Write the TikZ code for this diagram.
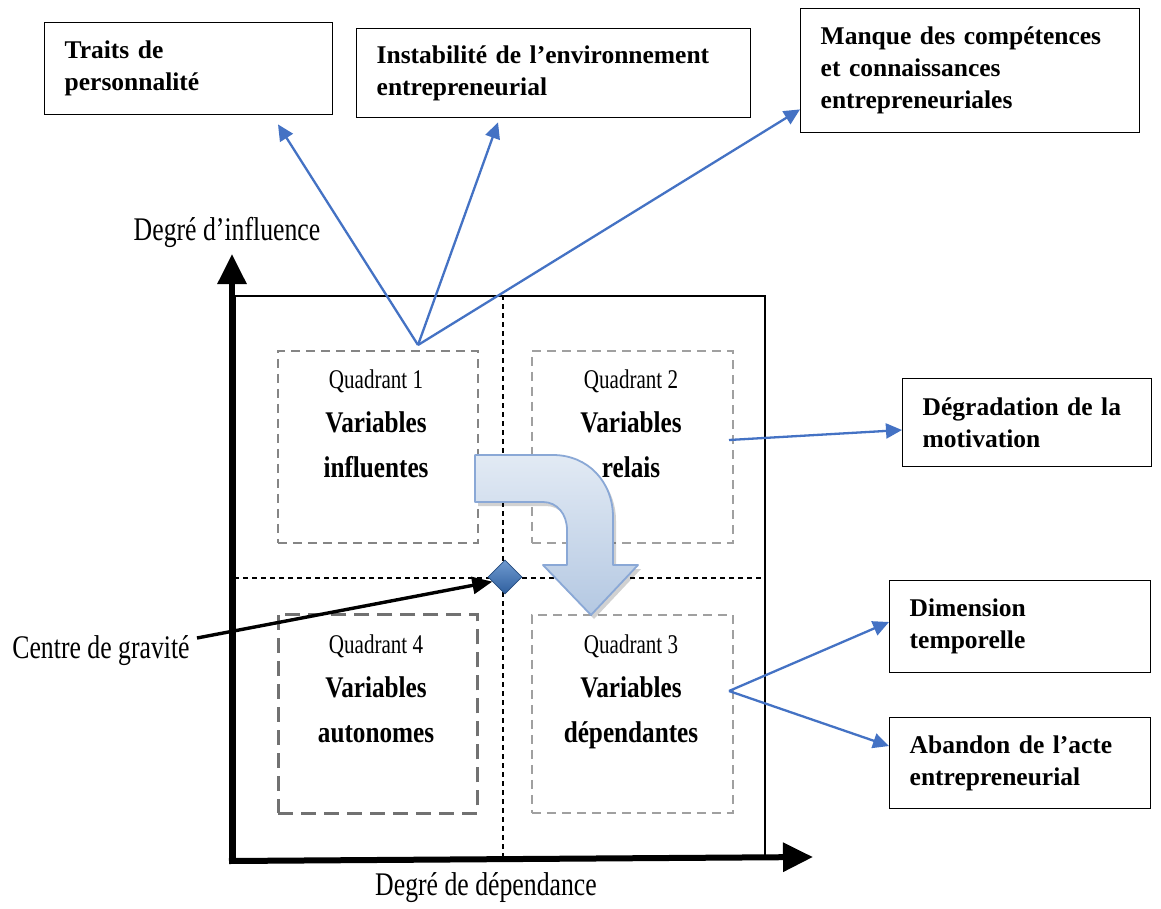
\documentclass[tikz,border=0pt]{standalone}
\usepackage{fontspec}
\usepackage{graphicx}
\setmainfont{Liberation Serif}
\usetikzlibrary{arrows.meta,shapes.geometric,calc}
\definecolor{lnblue}{HTML}{4472C4}
\definecolor{qgray}{HTML}{858585}
\definecolor{qgrayl}{HTML}{A0A0A0}
\definecolor{arrtop}{HTML}{E2EAF4}
\definecolor{arrbot}{HTML}{B4C8E2}
\definecolor{arrdraw}{HTML}{8AA8D6}
\definecolor{diatop}{HTML}{6F9AD0}
\definecolor{diabot}{HTML}{2F5F9E}
\newcommand\cnd[2]{\scalebox{#1}[1]{#2}}
\newcommand\crvpath{(475,455) -- (553,455) .. controls (588,455) and (613,482) .. (613,517) -- (613,565) -- (638,565) -- (591,615) -- (543,565) -- (567,565) -- (567,530) .. controls (567,514) and (557,502) .. (543,502) -- (475,502) -- cycle}
\tikzset{
  infobox/.style={draw, line width=1.4pt, inner xsep=20pt, inner ysep=4pt, align=left,
    font=\fontsize{25.5}{32}\selectfont\bfseries},
  quadbox/.style={draw=qgray, line width=1.8pt, dash pattern=on 9pt off 6pt},
  quadboxl/.style={draw=qgrayl, line width=1.7pt, dash pattern=on 9pt off 6pt},
  quadboxd/.style={draw=qgray!85!black, line width=2.8pt, dash pattern=on 15pt off 8pt},
  qtitle/.style={anchor=base, inner sep=0pt, font=\fontsize{27}{30}\selectfont},
  qbody/.style={anchor=base, inner sep=0pt, font=\fontsize{30}{34}\selectfont\bfseries},
  axlabel/.style={inner sep=0pt, font=\fontsize{33}{36}\selectfont},
  blueline/.style={draw=lnblue, line width=2.3pt, -{Triangle[length=16pt,width=15pt]}},
  axisline/.style={line width=6pt, -{Triangle[length=30pt,width=28pt]}},
  gridline/.style={line width=1.1pt, dash pattern=on 5pt off 4pt},
}
\begin{document}
\begin{tikzpicture}[x=1pt,y=-1pt]
\useasboundingbox (0,0) rectangle (1161,908);
\fill[white] (0,0) rectangle (1161,908);

% main square
\node[draw, line width=1.5pt, minimum width=530pt, minimum height=563pt, inner sep=0pt, anchor=north west] (sq) at (234,295) {};
\coordinate (vt) at (503,295);
\coordinate (vb) at (503,858);
\coordinate (hl) at (234,578);
\coordinate (hr) at (764,578);
\draw[gridline] (vt) -- (vb);
\draw[gridline] (hl) -- (hr);

% axes
\coordinate (orig) at (232,861);
\coordinate (ytip) at (232,254);
\coordinate (xtip) at (813,857);
\draw[axisline] ([yshift=3pt]orig) -- (ytip);
\draw[axisline] ([xshift=-3pt]orig) -- (xtip);
\node[axlabel] (ylab) at (227,232) {\cnd{0.78}{Degré d’influence}};
\node[axlabel] (xlab) at (486,888) {\cnd{0.78}{Degré de dépendance}};

% quadrant boxes
\node[quadbox, minimum width=200pt, minimum height=192pt, inner sep=0pt, anchor=north west] (q1) at (277,350) {};
\node[quadboxl, minimum width=201pt, minimum height=192pt, inner sep=0pt, anchor=north west] (q2) at (531,350) {};
\node[quadboxd, minimum width=199pt, minimum height=199pt, inner sep=0pt, anchor=north west] (q4) at (277,613) {};
\node[quadboxl, minimum width=201pt, minimum height=198pt, inner sep=0pt, anchor=north west] (q3) at (531,614) {};

\node[qtitle] (q1t) at (376,388) {\cnd{0.78}{Quadrant 1}};
\node[qbody] (q1a) at (376,432) {\cnd{0.84}{Variables}};
\node[qbody] (q1b) at (376,477) {\cnd{0.84}{influentes}};
\node[qtitle] (q2t) at (631,388) {\cnd{0.78}{Quadrant 2}};
\node[qbody] (q2a) at (631,432) {\cnd{0.84}{Variables}};
\node[qbody] (q2b) at (631,477) {\cnd{0.84}{relais}};
\node[qtitle] (q4t) at (376,653) {\cnd{0.78}{Quadrant 4}};
\node[qbody] (q4a) at (376,697) {\cnd{0.84}{Variables}};
\node[qbody] (q4b) at (376,742) {\cnd{0.84}{autonomes}};
\node[qtitle] (q3t) at (631,653) {\cnd{0.78}{Quadrant 3}};
\node[qbody] (q3a) at (631,697) {\cnd{0.84}{Variables}};
\node[qbody] (q3b) at (631,742) {\cnd{0.84}{dépendantes}};

% curved arrow
\fill[black, opacity=0.18] [shift={(3,4)}] \crvpath;
\path[top color=arrtop, bottom color=arrbot, draw=arrdraw, line width=1.8pt, line join=round] \crvpath;

% centre of gravity
\node[diamond, minimum width=34pt, minimum height=34pt, inner sep=0pt, top color=diatop, bottom color=diabot, draw=diabot!80!black, line width=0.6pt] (cg) at (505,577) {};
\node[axlabel] (cgl) at (101,651) {\cnd{0.78}{Centre de gravité}};
\coordinate (cgs) at (197,638);
\draw[line width=3.4pt, -{Triangle[length=20pt,width=17pt]}] (cgs) -- (cg.200);

% info boxes
\node[infobox, minimum width=288pt, minimum height=92pt, text width=248pt, anchor=north west] (b1) at (44,22) {Traits de\\personnalité};
\node[infobox, minimum width=394pt, minimum height=89pt, text width=354pt, anchor=north west] (b2) at (356,28) {Instabilité de l’environnement\\entrepreneurial};
\node[infobox, minimum width=339pt, minimum height=124pt, text width=299pt, anchor=north west] (b3) at (800,8) {Manque des compétences\\et connaissances\\entrepreneuriales};
\node[infobox, minimum width=249pt, minimum height=88pt, text width=209pt, anchor=north west] (b4) at (902,378) {Dégradation de la\\motivation};
\node[infobox, minimum width=261pt, minimum height=92pt, text width=221pt, anchor=north west] (b5) at (889,580) {Dimension\\temporelle};
\node[infobox, minimum width=261pt, minimum height=91pt, text width=221pt, anchor=north west] (b6) at (889,717) {Abandon de l’acte\\entrepreneurial};

% blue connectors
\coordinate (s1) at (418,345);
\coordinate (s2) at (729,440);
\coordinate (s3) at (729,691);
\draw[blueline] (s1) -- ($(b1.south west)+(234,9)$);
\draw[blueline] (s1) -- ($(b2.south west)+(142,4)$);
\draw[blueline] (s1) -- ($(b3.south west)+(0,-24)$);
\draw[blueline] (s2) -- ($(b4.north west)+(0,52)$);
\draw[blueline] (s3) -- ($(b5.north west)+(0,42)$);
\draw[blueline] (s3) -- ($(b6.north west)+(0,29)$);
\end{tikzpicture}
\end{document}
